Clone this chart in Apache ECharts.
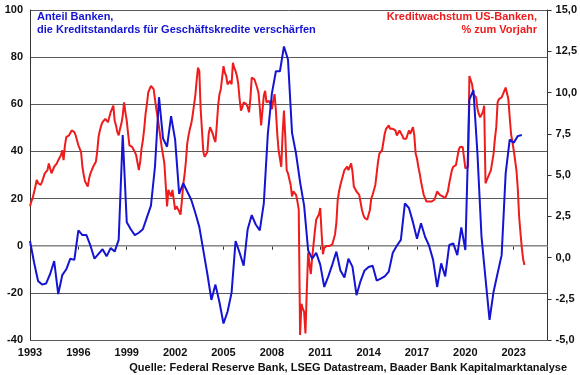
<!DOCTYPE html>
<html>
<head>
<meta charset="utf-8">
<script src="https://cdn.jsdelivr.net/npm/echarts@6/dist/echarts.min.js"></script>
<style>
  html, body { margin: 0; padding: 0; background: #fff; }
  #chart { width: 580px; height: 375px; }
</style>
</head>
<body>
<div id="chart"></div>
<script>
// Anteil Banken mit verschärften Kreditstandards (Quartal, ab 1993 Q1), linke Achse
const blueStart = 1993;
const blueValues = [
  2, -7, -15, -16.5, -16, -12, -6.5, -20.5, -12.5, -10, -5.5, -6,
  6.5, 4.5, 4.5, 0, -5.5, -3.5, -1.5, -4.5, -1, -2.5, 2.5, 47,
  10, 7, 4.5, 5.5, 7, 12, 17, 33.5, 63, 45.5, 42, 55,
  45, 22, 26.5, 23, 19.5, 14, 8, -2, -12, -23, -16.5, -24,
  -33, -28, -20, 2, -3, -8.5, 7, 13, 9, 6.5, 18, 47.5,
  64.5, 74, 74, 84.5, 79, 48, 39, 27, 17, -2, -5.5, -3,
  -8, -17.5, -13, -8, -2.5, -10.5, -13.5, -5.5, -9, -21, -15, -10.5,
  -9, -8.5, -14.8, -14, -13, -11, -3, 0, 2.5, 18, 16, 10,
  3, 9.5, 3.8, 0, -6, -17.5, -7.5, -13, 0.3, 1, -4, 7.8,
  -1.8, 62, 66, 39, 4, -14, -31.5, -19.5, -11.7, -4, 30.7, 45,
  43.7, 46.5, 47
];

// Kreditwachstum US-Banken, % zum Vorjahr (Monat, ab Jan 1993), rechte Achse
const redStart = 1993;
const redValues = [
  3.1, 3.4, 3.6, 3.7, 4.3, 4.7, 4.5, 4.4, 4.4, 4.6, 4.7, 5.1,   // 1993
  5.0, 5.3, 5.7, 5.4, 5.1, 5.3, 5.5, 5.6, 5.7, 5.9, 5.9, 6.2,   // 1994
  6.5, 5.9, 6.8, 7.3, 7.3, 7.4, 7.5, 7.7, 7.8, 7.6, 7.4, 7.3,   // 1995
  6.8, 6.9, 6.4, 5.5, 5.0, 4.6, 4.5, 4.3, 4.8, 5.1, 5.3, 5.5,   // 1996
  5.6, 5.8, 6.4, 7.3, 7.7, 8.0, 8.2, 8.3, 8.4, 8.4, 8.2, 8.5,   // 1997
  8.8, 8.9, 9.2, 8.3, 8.0, 7.6, 7.4, 7.8, 8.1, 8.6, 9.4, 8.8,   // 1998
  8.3, 7.5, 6.8, 6.9, 6.7, 6.8, 6.4, 6.2, 6.3, 5.3, 5.8, 6.6,   // 1999
  7.1, 7.8, 8.7, 9.3, 10.0, 10.2, 10.4, 10.4, 10.2, 9.6, 9.0, 8.5, // 2000
  7.9, 7.3, 6.7, 6.2, 5.7, 4.4, 3.1, 4.1, 4.1, 3.7, 4.1, 3.5,   // 2001
  2.9, 3.1, 3.1, 2.8, 2.6, 3.4, 4.4, 5.0, 5.8, 6.9, 7.4, 7.8,   // 2002
  8.1, 8.6, 9.2, 9.8, 10.7, 11.5, 11.3, 9.0, 7.7, 6.4, 6.1, 6.2, // 2003
  6.4, 7.5, 7.9, 8.0, 7.5, 7.2, 7.0, 8.0, 9.2, 9.9, 10.2, 10.9, // 2004
  11.6, 11.2, 11.0, 10.5, 10.6, 10.7, 10.5, 11.8, 11.5, 11.3, 11.0, 10.5, // 2005
  9.6, 8.9, 9.1, 9.4, 9.3, 9.3, 9.1, 8.8, 9.6, 10.9, 10.9, 10.8, // 2006
  10.8, 10.3, 10.0, 9.1, 8.0, 8.9, 9.8, 10.1, 9.4, 9.5, 9.5, 9.2, // 2007
  9.0, 9.5, 9.9, 8.9, 7.5, 6.5, 6.0, 5.5, 7.5, 8.9, 7.3, 5.3,   // 2008
  5.1, 5.0, 4.4, 3.7, 4.0, 3.9, 3.8, 3.4, 2.9, -4.7, -2.8, -3.1, // 2009
  -3.3, -4.6, -2.0, 0.3, -0.4, -1.0, 0.0, 0.8, 1.6, 2.3, 2.2, 2.6, // 2010
  3.0, 1.5, 0.2, 0.6, 0.6, 0.7, 0.7, 0.7, 0.8, 0.8, 0.9, 1.4,   // 2011
  2.1, 3.5, 4.0, 4.4, 4.7, 5.0, 5.3, 5.4, 5.5, 5.3, 5.5, 5.7,   // 2012
  5.2, 4.3, 4.2, 4.0, 3.9, 3.8, 3.7, 2.9, 2.6, 2.4, 2.3, 2.3,   // 2013
  2.2, 2.9, 3.6, 3.8, 3.8, 4.4, 5.1, 5.8, 6.3, 6.4, 6.5, 7.0,   // 2014
  7.5, 7.8, 7.9, 8.0, 7.8, 7.7, 7.8, 7.9, 7.7, 7.4, 7.5, 7.7,   // 2015
  7.6, 7.4, 7.2, 7.1, 7.2, 7.3, 7.7, 7.5, 7.6, 7.9, 7.4, 6.3,   // 2016
  6.0, 5.5, 5.1, 4.6, 4.2, 3.8, 3.6, 3.4, 3.3, 3.4, 3.5, 3.4,   // 2017
  3.4, 3.5, 3.6, 4.0, 3.9, 3.8, 3.8, 3.7, 3.7, 3.6, 3.5, 4.0,   // 2018
  4.5, 4.9, 5.3, 5.5, 5.6, 5.6, 5.7, 6.5, 6.7, 6.7, 6.7, 6.6,   // 2019
  5.4, 5.5, 5.5, 11.0, 10.9, 10.5, 9.9, 9.8, 9.7, 9.0, 8.7, 8.5, // 2020
  8.5, 8.8, 9.2, 4.5, 4.7, 4.9, 5.1, 5.3, 5.8, 6.3, 7.2, 7.9,   // 2021
  9.4, 9.6, 9.7, 9.7, 9.9, 10.0, 10.3, 10.2, 9.6, 8.5, 7.5, 7.0, // 2022
  6.5, 5.9, 5.3, 4.2, 2.5, 1.5, 0.6, -0.1, -0.45                 // 2023
];

const xMin = 1993;
const xMax = 2025.1;
const xStep = 3;
const leftTicks = { min: -40, max: 100, step: 20 };
const rightTicks = { min: -5, max: 15, step: 2.5 };

const blueData = blueValues.map((v, i) => [blueStart + i / 4, v]);
const redData = redValues.map((v, i) => [redStart + i / 12, v]);

const font = 'Liberation Sans, Arial, sans-serif';
const blue = '#1414d2';
const red = '#ee1c1c';

const chart = echarts.init(document.getElementById('chart'), null, { renderer: 'canvas' });
chart.setOption({
  animation: false,
  textStyle: { fontFamily: font },
  grid: { left: 30, right: 32, top: 10, bottom: 35, containLabel: false },
  title: [
    {
      text: 'Anteil Banken,\ndie Kreditstandards für Geschäftskredite verschärfen',
      left: 37, top: 10, padding: 0,
      textStyle: { color: blue, fontSize: 11, fontWeight: 'bold', lineHeight: 13, fontFamily: font }
    },
    {
      text: 'Quelle: Federal Reserve Bank, LSEG Datastream, Baader Bank Kapitalmarktanalyse',
      right: 13, bottom: 2, padding: 0,
      textStyle: { color: '#111', fontSize: 11, fontWeight: 'bold', fontFamily: font }
    }
  ],
  // rechte Legende: zwei Zeilen, rechtsbündig
  graphic: [
    {
      type: 'text', right: 43, top: 11, z: 10,
      style: { text: 'Kreditwachstum US-Banken,', fill: red, font: 'bold 11px ' + font }
    },
    {
      type: 'text', right: 43, top: 24, z: 10,
      style: { text: '% zum Vorjahr', fill: red, font: 'bold 11px ' + font }
    }
  ],
  xAxis: {
    type: 'value', min: xMin, max: xMax, interval: xStep,
    axisLine: { show: true, lineStyle: { color: '#333', width: 1 } },
    axisTick: { show: true, inside: false, length: 4, lineStyle: { color: '#333' } },
    axisLabel: {
      margin: 7, color: '#111', fontSize: 11, fontWeight: 'bold', showMaxLabel: false,
      formatter: v => ((v - xMin) % xStep === 0 ? String(v) : '')
    },
    splitLine: { show: false }
  },
  yAxis: [
    {
      type: 'value', min: leftTicks.min, max: leftTicks.max, interval: leftTicks.step,
      position: 'left',
      axisLine: { show: true, lineStyle: { color: '#333' } },
      axisTick: { show: false },
      axisLabel: { margin: 7, color: '#111', fontSize: 11, fontWeight: 'bold' },
      splitLine: { show: true, lineStyle: { color: '#5a5a5a', width: 1 } }
    },
    {
      type: 'value', min: rightTicks.min, max: rightTicks.max, interval: rightTicks.step,
      position: 'right',
      axisLine: { show: true, lineStyle: { color: '#333' } },
      axisTick: { show: true, length: 4, lineStyle: { color: '#333' } },
      axisLabel: {
        margin: 8, color: '#111', fontSize: 11, fontWeight: 'bold',
        formatter: v => v.toFixed(1).replace('.', ',')
      },
      splitLine: { show: false }
    }
  ],
  series: [
    {
      name: 'Kreditwachstum', type: 'line', yAxisIndex: 1, z: 2,
      data: redData, showSymbol: false, symbol: 'none',
      lineStyle: { color: red, width: 2 }
    },
    {
      name: 'Kreditstandards', type: 'line', yAxisIndex: 0, z: 3,
      data: blueData, showSymbol: false, symbol: 'none',
      lineStyle: { color: blue, width: 2 },
      markLine: {
        silent: true, symbol: 'none', label: { show: false },
        lineStyle: { color: '#a6a6a6', width: 1.5, type: 'solid' },
        data: [{ yAxis: 0 }], z: 1
      }
    }
  ]
});
</script>
</body>
</html>
